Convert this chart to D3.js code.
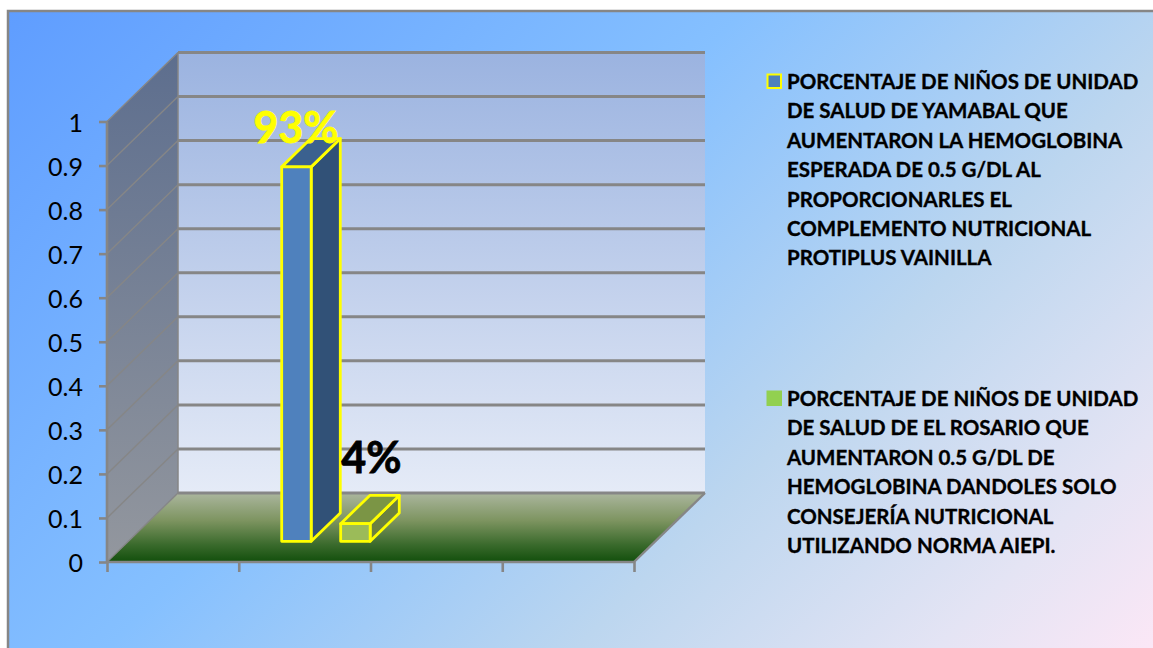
<!DOCTYPE html>
<html>
<head>
<meta charset="utf-8">
<script src="https://cdn.jsdelivr.net/npm/d3@7"></script>
<style>
html, body { margin:0; padding:0; background:#fff; overflow:hidden; }
svg { display:block; }
text { font-family:Lato, "Open Sans", sans-serif; }
</style>
</head>
<body>
<svg id="chart"></svg>
<script>
// data
var categories = ["c1", "c2", "c3", "c4"];
var series = ["Yamabal", "El Rosario"];
var values = [0.85, 0.04];
var valueLabels = ["93%", "4%"];
var yTicks = [0, 0.1, 0.2, 0.3, 0.4, 0.5, 0.6, 0.7, 0.8, 0.9, 1];
var xTickEdges = [0, 1, 2, 3, 4];
var legendOne = ["PORCENTAJE DE NIÑOS DE UNIDAD", "DE SALUD DE YAMABAL QUE", "AUMENTARON LA HEMOGLOBINA",
    "ESPERADA DE 0.5 G/DL AL", "PROPORCIONARLES EL", "COMPLEMENTO NUTRICIONAL", "PROTIPLUS VAINILLA"];
var legendTwo = ["PORCENTAJE DE NIÑOS DE UNIDAD", "DE SALUD DE EL ROSARIO QUE", "AUMENTARON 0.5 G/DL DE",
    "HEMOGLOBINA DANDOLES SOLO", "CONSEJERÍA NUTRICIONAL", "UTILIZANDO NORMA AIEPI."];

var screen = {width:1153, height:648};
var plot = {left:107, right:634, bottom:562, top:121.5};
var depth = {x:71, y:-69};
var grey = "#868686";

var svg = d3.select("#chart").attr("width", screen.width).attr("height", screen.height);
var defs = svg.append("defs");

var addGradient = function(id, stops, x2, y2, units)
{
    var g = defs.append("linearGradient").attr("id", id)
        .attr("gradientUnits", units || "objectBoundingBox")
        .attr("x1", 0).attr("y1", 0).attr("x2", x2).attr("y2", y2);
    stops.forEach(function(s)
    {
        g.append("stop").attr("offset", s[0]).attr("stop-color", s[1]);
    });
};
// background runs at 45 degrees in pixels, not corner to corner
addGradient("bg", [[0, "#5e9cff"], [0.42, "#85c0ff"], [0.68, "#bcd6ef"], [0.88, "#e4e4f4"], [1, "#fbe7f6"]],
    900, 900, "userSpaceOnUse");
addGradient("backWall", [[0, "#9bb3e0"], [1, "#e5ebf7"]], 0, 1);
addGradient("sideWall", [[0, "#5d6e8e"], [1, "#93979e"]], 0, 1);
addGradient("floor", [[0, "#abb69e"], [0.4, "#7d9460"], [0.75, "#3a6a2c"], [1, "#124f0c"]], 0, 1);

// scales
var xEdge = d3.scaleLinear().domain([0, 4]).range([plot.left, plot.right]);
var yScale = d3.scaleLinear().domain([0, 1]).range([plot.bottom, plot.top]);
var x0 = d3.scaleBand().domain(categories).range([plot.left, plot.right]);
var x1 = d3.scaleBand().domain(series).range([0, x0.bandwidth()]).paddingInner(0.5).paddingOuter(0.367);

// oblique projection, z goes 0 (front) to 1 (back wall)
var project = function(px, v, z)
{
    return [px + z * depth.x, yScale(v) + z * depth.y];
};
var poly = function(pts)
{
    return d3.line()(pts) + "Z";
};

// chart area background
svg.append("rect")
    .attr("x", 8).attr("y", 11)
    .attr("width", screen.width + 20).attr("height", screen.height + 20)
    .attr("fill", "url(#bg)")
    .attr("stroke", grey).attr("stroke-width", 2.5);

var walls = svg.append("g").classed("walls", true);
walls.append("path")
    .attr("d", poly([project(plot.left, 1, 1), project(plot.right, 1, 1), project(plot.right, 0, 1), project(plot.left, 0, 1)]))
    .attr("fill", "url(#backWall)");
walls.append("path")
    .attr("d", poly([project(plot.left, 1, 0), project(plot.left, 1, 1), project(plot.left, 0, 1), project(plot.left, 0, 0)]))
    .attr("fill", "url(#sideWall)");
walls.append("path")
    .attr("d", poly([project(plot.left, 0, 1), project(plot.right, 0, 1), project(plot.right, 0, 0), project(plot.left, 0, 0)]))
    .attr("fill", "url(#floor)");

// gridlines: back wall is heavy, side wall is thin
var grid = svg.append("g").classed("grid", true).attr("fill", "none").attr("stroke", grey);
grid.selectAll(".back").data(yTicks).enter().append("path").classed("back", true)
    .attr("stroke-width", 3)
    .attr("d", function(t) { return d3.line()([project(plot.left, t, 1), project(plot.right, t, 1)]); });
grid.selectAll(".side").data(yTicks).enter().append("path").classed("side", true)
    .attr("stroke-width", 1.4)
    .attr("d", function(t) { return d3.line()([project(plot.left, t, 0), project(plot.left, t, 1)]); });
grid.append("path").attr("stroke-width", 1.5)
    .attr("d", d3.line()([project(plot.left, 0, 1), project(plot.left, 1, 1)]));
grid.append("path").attr("stroke-width", 2.4)
    .attr("d", d3.line()([project(plot.right, 0, 0), project(plot.right, 0, 1)]));

// axes
var yAxis = d3.axisLeft(yScale).tickValues(yTicks).tickSize(8).tickPadding(16)
    .tickFormat(function(d) { return d; });
var gy = svg.append("g").attr("transform", "translate(" + plot.left + ",0)").call(yAxis);
gy.selectAll("text").attr("font-size", 25).attr("fill", "#000").attr("dy", "0.38em")
    .style("font-family", "Lato, sans-serif");

var xAxis = d3.axisBottom(xEdge).tickValues(xTickEdges).tickSize(10).tickFormat("");
var gx = svg.append("g").attr("transform", "translate(0," + plot.bottom + ")").call(xAxis);
[gy, gx].forEach(function(a)
{
    a.selectAll("line, path").attr("stroke", grey).attr("stroke-width", 2.6);
});
gy.select(".domain").attr("d", d3.line()([[0, yScale(0)], [0, yScale(1)]]));
gx.select(".domain").attr("d", d3.line()([[xEdge(0), 0], [xEdge(4), 0]]));

// bars
var barColors = [
    {front:"#4f81bd", side:"#315177", top:"#3b618f"},
    {front:"#9bbb59", side:"#6b8040", top:"#7b9545"}
];
var zFront = 0.3, zBack = 0.71;
var bars = svg.append("g").classed("bars", true)
    .selectAll("g").data(values).enter().append("g")
    .attr("stroke", "#ffff00").attr("stroke-width", 2.8).attr("stroke-linejoin", "round");
var barX = function(i)
{
    return x0(categories[1]) + x1(series[i]);
};
bars.append("path").attr("fill", function(d, i) { return barColors[i].side; })
    .attr("d", function(d, i)
    {
        var r = barX(i) + x1.bandwidth();
        return poly([project(r, d, zFront), project(r, d, zBack), project(r, 0, zBack), project(r, 0, zFront)]);
    });
bars.append("path").attr("fill", function(d, i) { return barColors[i].top; })
    .attr("d", function(d, i)
    {
        var l = barX(i), r = l + x1.bandwidth();
        return poly([project(l, d, zFront), project(l, d, zBack), project(r, d, zBack), project(r, d, zFront)]);
    });
bars.append("path").attr("fill", function(d, i) { return barColors[i].front; })
    .attr("d", function(d, i)
    {
        var l = barX(i), r = l + x1.bandwidth();
        return poly([project(l, d, zFront), project(r, d, zFront), project(r, 0, zFront), project(l, 0, zFront)]);
    });

// data labels
var labelColors = ["#ffff00", "#000000"];
var labelShift = [{x:-7, y:4}, {x:22, y:-22}];
svg.append("g").classed("labels", true)
    .selectAll("text").data(values).enter().append("text")
    .text(function(d, i) { return valueLabels[i]; })
    .attr("x", function(d, i) { return barX(i) + labelShift[i].x; })
    .attr("y", function(d, i) { return project(0, d, zBack)[1] + labelShift[i].y; })
    .attr("font-size", 43).attr("font-weight", 700)
    .attr("fill", function(d, i) { return labelColors[i]; })
    .attr("stroke", function(d, i) { return labelColors[i]; })
    .attr("stroke-width", 0.8);

// legend
var drawLegend = function(lines, top, swatch)
{
    var g = svg.append("g").classed("legend", true);
    g.append("rect")
        .attr("x", 767.5).attr("y", top - 14.5).attr("width", 13.5).attr("height", 13.5)
        .attr("fill", swatch.fill).attr("stroke", swatch.stroke).attr("stroke-width", 2);
    g.selectAll("text").data(lines).enter().append("text")
        .text(function(d) { return d; })
        .attr("x", 787)
        .attr("y", function(d, i) { return top + i * 29.4; })
        .attr("font-size", 20.5).attr("font-weight", 700).attr("fill", "#000")
        .attr("stroke", "#000").attr("stroke-width", 0.35);
};
drawLegend(legendOne, 89, {fill:"#4f81bd", stroke:"#ffff00"});
drawLegend(legendTwo, 406, {fill:"#92d050", stroke:"#92d050"});
</script>
</body>
</html>
